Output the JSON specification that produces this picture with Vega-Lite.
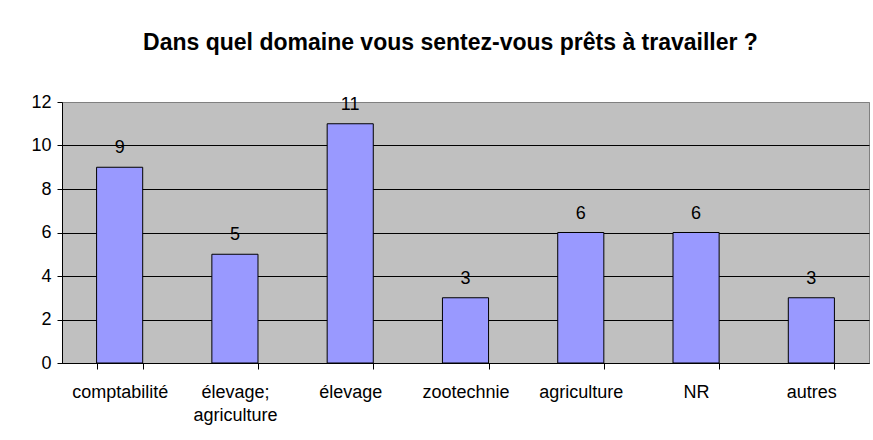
{
  "$schema": "https://vega.github.io/schema/vega-lite/v6.json",
  "width": 807,
  "height": 261,
  "autosize": {"type": "none"},
  "padding": {"left": 62, "top": 102, "right": 4, "bottom": 77},
  "background": "white",
  "title": {
    "text": "Dans quel domaine vous sentez-vous prêts à travailler ?",
    "font": "Liberation Sans",
    "fontSize": 23,
    "fontWeight": "bold",
    "color": "black",
    "anchor": "middle",
    "frame": "group",
    "baseline": "alphabetic",
    "offset": 20,
    "dx": -15
  },
  "data": {
    "values": [
      {"domaine": "comptabilité", "n": 9},
      {"domaine": "élevage; agriculture", "n": 5},
      {"domaine": "élevage", "n": 11},
      {"domaine": "zootechnie", "n": 3},
      {"domaine": "agriculture", "n": 6},
      {"domaine": "NR", "n": 6},
      {"domaine": "autres", "n": 3}
    ]
  },
  "encoding": {
    "x": {
      "field": "domaine",
      "type": "nominal",
      "sort": null,
      "scale": {"paddingInner": 0.6, "paddingOuter": 0.3},
      "axis": {
        "title": null,
        "labelAngle": 0,
        "tickBand": "extent",
        "tickSize": 6,
        "tickColor": "#000000",
        "domainColor": "#000000",
        "labelFont": "Liberation Sans",
        "labelFontSize": 18,
        "labelColor": "#000000",
        "labelBaseline": "alphabetic",
        "labelPadding": 28,
        "labelLineHeight": 23,
        "labelExpr": "datum.label == 'élevage; agriculture' ? ['élevage;', 'agriculture'] : datum.label",
        "grid": false
      }
    },
    "y": {
      "field": "n",
      "type": "quantitative",
      "scale": {"domain": [0, 12], "nice": false},
      "axis": {
        "title": null,
        "values": [0, 2, 4, 6, 8, 10, 12],
        "tickSize": 5,
        "labelPadding": 6,
        "tickColor": "#000000",
        "domainColor": "#000000",
        "labelFont": "Liberation Sans",
        "labelFontSize": 18,
        "labelColor": "#000000",
        "grid": true,
        "gridColor": {"condition": {"test": "datum.value == 12", "value": "#808080"}, "value": "#000000"},
        "gridOpacity": 1
      }
    }
  },
  "layer": [
    {
      "mark": {"type": "bar", "color": "#9999FF", "stroke": "#000000", "strokeWidth": 1}
    },
    {
      "mark": {"type": "text", "baseline": "alphabetic", "dy": -14, "font": "Liberation Sans", "fontSize": 18, "color": "#000000"},
      "encoding": {"text": {"field": "n", "type": "quantitative"}}
    }
  ],
  "config": {
    "view": {"fill": "#C0C0C0", "stroke": "#808080", "strokeWidth": 1}
  }
}
